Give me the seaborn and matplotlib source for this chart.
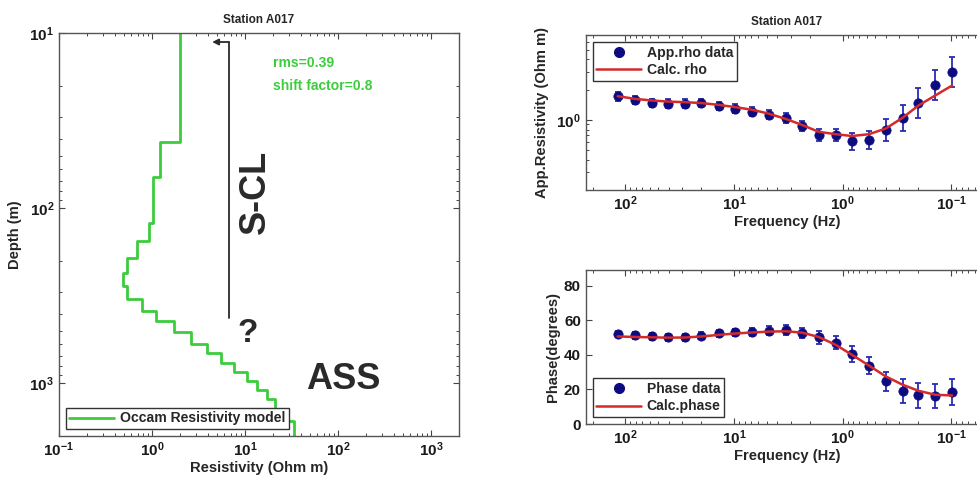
import numpy as np
import pandas as pd
import matplotlib
matplotlib.use("Agg")
import matplotlib.pyplot as plt
import seaborn as sns
from matplotlib.lines import Line2D
from matplotlib.ticker import LogLocator, FuncFormatter, NullFormatter, FixedLocator

# ---------------- data ----------------
# Occam 1D model: layer top depth (m) and resistivity (Ohm m)
layer_top_depth = [10, 41.7, 66, 122, 154, 192, 234, 279, 329, 384, 443, 511,
                   596, 674, 768, 865, 966, 1087, 1230, 1420, 1650]
layer_rho = [2.02, 1.23, 1.03, 0.92, 0.69, 0.537, 0.486, 0.537, 0.78, 1.11, 1.71,
             2.64, 3.92, 5.46, 7.6, 10.4, 13.4, 17.4, 20.9, 27.0, 34.0]
model_bottom_depth = 2000

# MT sounding
freq = [118, 82, 57.5, 40.5, 28.2, 20.0, 13.9, 9.8, 6.8, 4.75, 3.33, 2.36, 1.66,
        1.16, 0.82, 0.57, 0.40, 0.28, 0.20, 0.14, 0.098]
app_rho = [1.72, 1.58, 1.47, 1.45, 1.45, 1.47, 1.37, 1.29, 1.21, 1.13, 1.05, 0.87,
           0.71, 0.70, 0.61, 0.63, 0.80, 1.04, 1.47, 2.24, 2.99]
app_rho_err_dec = [0.043, 0.043, 0.043, 0.043, 0.043, 0.043, 0.043, 0.043, 0.047,
                   0.047, 0.05, 0.05, 0.057, 0.06, 0.083, 0.093, 0.11, 0.133,
                   0.15, 0.15, 0.15]
calc_rho = [1.72, 1.62, 1.56, 1.52, 1.50, 1.47, 1.41, 1.34, 1.26, 1.15, 1.02, 0.89,
            0.76, 0.72, 0.69, 0.72, 0.82, 1.05, 1.39, 1.75, 2.20]
phase = [52.1, 51.2, 50.6, 50.2, 50.2, 51.0, 52.5, 53.1, 53.3, 54.0, 54.4, 52.5,
         50.0, 47.1, 40.4, 33.7, 24.6, 19.2, 16.5, 16.0, 18.5]
phase_err = [1.5, 1.8, 1.8, 2.0, 2.0, 2.0, 2.0, 2.0, 2.2, 2.5, 2.8, 3.0, 3.5, 4.0,
             4.5, 4.8, 5.6, 7.0, 7.0, 7.0, 7.7]
calc_phase = [50.6, 50.3, 50.1, 49.9, 50.0, 50.6, 51.5, 52.3, 52.9, 53.4, 53.6, 52.8,
              50.3, 45.8, 40.0, 33.7, 27.5, 22.7, 19.2, 16.9, 16.5]

title_text = "Station A017"

# ---------------- style ----------------
sns.set_theme(style="white")
plt.rcParams["font.family"] = ["Liberation Sans", "DejaVu Sans"]
plt.rcParams["font.weight"] = "bold"
plt.rcParams["axes.unicode_minus"] = False
plt.rcParams["mathtext.fontset"] = "custom"
plt.rcParams["mathtext.rm"] = "Liberation Sans:bold"
plt.rcParams["mathtext.it"] = "Liberation Sans:bold"
plt.rcParams["mathtext.bf"] = "Liberation Sans:bold"

GREEN = "#3ccc3c"
NAVY = "#0c0c80"
EBLUE = "#2b2bb0"
RED = "#d42a2a"
DARK = "#2a2a2a"
SPINE = "#555555"
LABEL_FS = 10.6
TICK_FS = 11
LEG_FS = 10.1

fig = plt.figure(figsize=(9.78, 4.79), dpi=100)
ax1 = fig.add_axes([0.0603, 0.0898, 0.409, 0.841])
ax2 = fig.add_axes([0.599, 0.6033, 0.411, 0.3236])
ax3 = fig.add_axes([0.599, 0.1148, 0.411, 0.3215])


def pow10(v, pos):
    e = int(round(np.log10(v)))
    return r"$10^{%d}$" % e


def style_axes(ax, logx=True, logy=False):
    for s in ax.spines.values():
        s.set_color(SPINE)
        s.set_linewidth(1.0)
    ax.tick_params(which="both", direction="in", top=True, right=True,
                   bottom=True, left=True, colors="#444444", labelcolor="#1a1a1a",
                   labelsize=TICK_FS)
    ax.tick_params(which="major", length=4.5, width=0.8)
    ax.tick_params(which="minor", length=2.5, width=0.7)
    if logx:
        ax.xaxis.set_major_locator(LogLocator(base=10, numticks=20))
        ax.xaxis.set_minor_locator(LogLocator(base=10, subs=np.arange(2, 10), numticks=20))
        ax.xaxis.set_major_formatter(FuncFormatter(pow10))
        ax.xaxis.set_minor_formatter(NullFormatter())
    if logy:
        ax.yaxis.set_major_locator(LogLocator(base=10, numticks=20))
        ax.yaxis.set_minor_locator(LogLocator(base=10, subs=np.arange(2, 10), numticks=20))
        ax.yaxis.set_major_formatter(FuncFormatter(pow10))
        ax.yaxis.set_minor_formatter(NullFormatter())


# ---------------- left: Occam model ----------------
ax1.set_xscale("log")
ax1.set_yscale("log")
bottoms = layer_top_depth[1:] + [model_bottom_depth]
xs, ys = [], []
for r, t, b in zip(layer_rho, layer_top_depth, bottoms):
    xs += [r, r]
    ys += [t, b]
model_df = pd.DataFrame({"Resistivity": xs, "Depth": ys})
sns.lineplot(data=model_df, x="Resistivity", y="Depth", sort=False, estimator=None,
             color=GREEN, lw=2.0, ax=ax1, label="Occam Resistivity model")
ax1.set_xlim(0.1, 2000)
ax1.set_ylim(2000, 10)
style_axes(ax1, logx=True, logy=True)
ax1.set_title(title_text, fontsize=8.5, fontweight="bold", pad=7)
ax1.set_xlabel("Resistivity (Ohm m)", fontsize=LABEL_FS, fontweight="bold", labelpad=1)
ax1.set_ylabel("Depth (m)", fontsize=LABEL_FS, fontweight="bold", labelpad=5)
leg1 = ax1.legend(loc="lower left", fancybox=False, edgecolor="#333333", framealpha=1,
                  fontsize=LEG_FS, handlelength=3.2, borderpad=0.25, handletextpad=0.4)
leg1.get_frame().set_linewidth(1.0)

ax1.text(0.535, 0.9256, "rms=0.39", transform=ax1.transAxes, color=GREEN,
         fontsize=10, fontweight="bold", ha="left", va="center")
ax1.text(0.535, 0.868, "shift factor=0.8", transform=ax1.transAxes, color=GREEN,
         fontsize=10, fontweight="bold", ha="left", va="center")
ax1.text(0.49, 0.605, "S-CL", transform=ax1.transAxes, color=DARK, fontsize=26,
         fontweight="bold", rotation=90, ha="center", va="center")
ax1.text(0.4725, 0.2556, "?", transform=ax1.transAxes, color=DARK, fontsize=24,
         fontweight="bold", ha="center", va="center")
ax1.text(0.71, 0.139, "ASS", transform=ax1.transAxes, color=DARK, fontsize=26,
         fontweight="bold", ha="center", va="center")
ax1.plot([0.424, 0.424], [0.2928, 0.978], transform=ax1.transAxes, color=DARK, lw=1.3)
ax1.annotate("", xy=(0.383, 0.978), xytext=(0.4245, 0.978), xycoords="axes fraction",
             arrowprops=dict(arrowstyle="-|>", color=DARK, lw=1.3, mutation_scale=9,
                             shrinkA=0, shrinkB=0))

# ---------------- top right: apparent resistivity ----------------
ax2.set_xscale("log")
ax2.set_yscale("log")
rho_arr = np.array(app_rho)
e_arr = np.array(app_rho_err_dec)
lo = rho_arr * (1 - 10 ** (-e_arr))
hi = rho_arr * (10 ** e_arr - 1)
ax2.errorbar(freq, app_rho, yerr=[lo, hi], fmt="none", ecolor=EBLUE, elinewidth=1.3,
             capsize=2.5, capthick=1.3, zorder=2)
sns.scatterplot(x=freq, y=app_rho, color=NAVY, s=45, edgecolor=NAVY, linewidth=0.5,
                ax=ax2, zorder=3, legend=False)
sns.lineplot(x=freq, y=calc_rho, color=RED, lw=1.8, ax=ax2, zorder=4, sort=False,
             estimator=None, legend=False)
ax2.set_xlim(232, 0.046)
ax2.set_ylim(0.2, 7)
style_axes(ax2, logx=True, logy=True)
ax2.set_title(title_text, fontsize=8.5, fontweight="bold", pad=7)
ax2.set_xlabel("Frequency (Hz)", fontsize=LABEL_FS, fontweight="bold", labelpad=1)
ax2.set_ylabel("App.Resistivity (Ohm m)", fontsize=LABEL_FS, fontweight="bold", labelpad=5)
h2 = [Line2D([], [], marker="o", ls="none", color=NAVY, markersize=7),
      Line2D([], [], color=RED, lw=1.8)]
leg2 = ax2.legend(h2, ["App.rho data", "Calc. rho"], loc="upper left", fancybox=False,
                  edgecolor="#333333", framealpha=1, fontsize=LEG_FS, handlelength=3.2,
                  borderpad=0.25, labelspacing=0.25, handletextpad=0.4)
leg2.get_frame().set_linewidth(1.0)

# ---------------- bottom right: phase ----------------
ax3.set_xscale("log")
ax3.errorbar(freq, phase, yerr=phase_err, fmt="none", ecolor=EBLUE, elinewidth=1.3,
             capsize=2.5, capthick=1.3, zorder=2)
sns.scatterplot(x=freq, y=phase, color=NAVY, s=45, edgecolor=NAVY, linewidth=0.5,
                ax=ax3, zorder=3, legend=False)
sns.lineplot(x=freq, y=calc_phase, color=RED, lw=1.8, ax=ax3, zorder=4, sort=False,
             estimator=None, legend=False)
ax3.set_xlim(232, 0.046)
ax3.set_ylim(0, 89)
style_axes(ax3, logx=True, logy=False)
ax3.yaxis.set_major_locator(FixedLocator([0, 20, 40, 60, 80]))
ax3.set_xlabel("Frequency (Hz)", fontsize=LABEL_FS, fontweight="bold", labelpad=1)
ax3.set_ylabel("Phase(degrees)", fontsize=LABEL_FS, fontweight="bold", labelpad=3)
h3 = [Line2D([], [], marker="o", ls="none", color=NAVY, markersize=7),
      Line2D([], [], color=RED, lw=1.8)]
leg3 = ax3.legend(h3, ["Phase data", "Calc.phase"], loc="lower left", fancybox=False,
                  edgecolor="#333333", framealpha=1, fontsize=LEG_FS, handlelength=3.2,
                  borderpad=0.25, labelspacing=0.25, handletextpad=0.4)
leg3.get_frame().set_linewidth(1.0)

fig.savefig("out.png", dpi=100)
